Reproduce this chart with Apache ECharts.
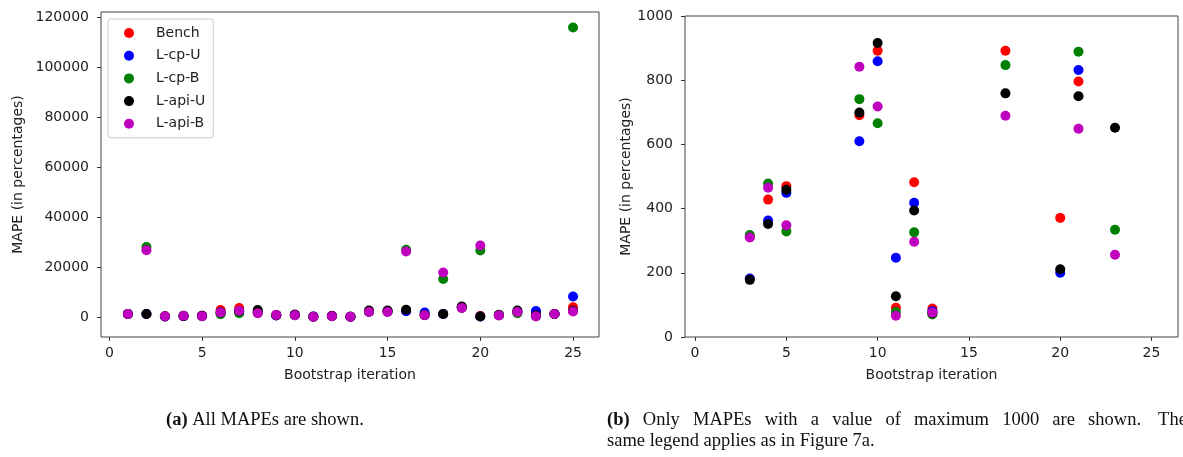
<!DOCTYPE html>
<html>
<head>
<meta charset="utf-8">
<script src="https://cdn.jsdelivr.net/npm/echarts@6/dist/echarts.min.js"></script>
<style>
  html, body { margin: 0; padding: 0; background: #fff; }
  #main { width: 1183px; height: 457px; }
</style>
</head>
<body>
<div id="main"></div>
<script>
var iterations = [1, 2, 3, 4, 5, 6, 7, 8, 9, 10, 11, 12, 13, 14, 15, 16, 17, 18, 19, 20, 21, 22, 23, 24, 25];
var bench  = [1200, 1200, 312, 428, 470, 2800, 3600, 2000, 691, 892, 91, 482, 89, 2200, 2300, 2500, 892, 1200, 4000, 371, 796, 2000, 2000, 1200, 3900];
var lcpU   = [1200, 1200, 182, 363, 449, 1800, 2200, 2000, 610, 859, 247, 418, 80, 2200, 2300, 2300, 1800, 1200, 3900, 200, 832, 2000, 2400, 1200, 8200];
var lcpB   = [1200, 28000, 318, 478, 329, 1100, 1500, 1600, 741, 666, 78, 326, 70, 2000, 2100, 26900, 847, 15200, 3600, 26600, 889, 1500, 334, 1200, 115800];
var lapiU  = [1200, 1200, 178, 352, 459, 1900, 2400, 2800, 699, 916, 127, 394, 75, 2600, 2600, 2900, 759, 1200, 4200, 211, 750, 2600, 652, 1200, 2500];
var lapiB  = [1200, 26700, 310, 465, 348, 1800, 2500, 1500, 842, 718, 66, 297, 76, 2000, 2000, 26200, 689, 17800, 3600, 28600, 649, 2000, 256, 1200, 2200];

var names  = ['Bench', 'L-cp-U', 'L-cp-B', 'L-api-U', 'L-api-B'];
var values = [bench, lcpU, lcpB, lapiU, lapiB];
var colors = ['#ff0000', '#0000ff', '#008000', '#000000', '#bf00bf'];

var xTicks = [0, 5, 10, 15, 20, 25];
var yTicksAll = [0, 20000, 40000, 60000, 80000, 100000, 120000];
var yTicksMax = [0, 200, 400, 600, 800, 1000];
var limit = 1000;

var captionB1 = ['(b)', 'Only', 'MAPEs', 'with', 'a', 'value', 'of', 'maximum', '1000', 'are', 'shown.'];
var captionB2 = 'same legend applies as in Figure 7a.';

var font = 'DejaVu Sans';
var serif = 'Liberation Serif';
var txt = '#222';

function plain(v) { return String(v); }

function xAxisFor(idx, min, max) {
    return {
        type: 'value', gridIndex: idx, min: min, max: max,
        name: 'Bootstrap iteration', nameLocation: 'middle', nameGap: 31,
        nameTextStyle: { fontFamily: font, fontSize: 14, color: txt },
        axisLine: { show: false, onZero: false },
        splitLine: { show: false },
        axisTick: { show: true, length: 4, customValues: xTicks, lineStyle: { color: '#333' } },
        axisLabel: { customValues: xTicks, margin: 9, fontFamily: font, fontSize: 14, color: txt, formatter: plain }
    };
}

function yAxisFor(idx, min, max, ticks, gap) {
    return {
        type: 'value', gridIndex: idx, min: min, max: max,
        name: 'MAPE (in percentages)', nameLocation: 'middle', nameGap: gap,
        nameTextStyle: { fontFamily: font, fontSize: 14, color: txt },
        axisLine: { show: false, onZero: false },
        splitLine: { show: false },
        axisTick: { show: true, length: 4, customValues: ticks, lineStyle: { color: '#333' } },
        axisLabel: { customValues: ticks, margin: 12, fontFamily: font, fontSize: 14, color: txt, formatter: plain }
    };
}

var series = [];
names.forEach(function (n, i) {
    series.push({
        name: n, type: 'scatter', xAxisIndex: 0, yAxisIndex: 0,
        symbolSize: 10, itemStyle: { color: colors[i], opacity: 1 },
        data: iterations.map(function (it, k) { return [it, values[i][k]]; })
    });
});
names.forEach(function (n, i) {
    // right panel: only values up to 1000
    var pts = [];
    iterations.forEach(function (it, k) {
        if (values[i][k] <= limit) pts.push([it, values[i][k]]);
    });
    series.push({
        name: n, type: 'scatter', xAxisIndex: 1, yAxisIndex: 1,
        symbolSize: 10, itemStyle: { color: colors[i], opacity: 1 },
        data: pts
    });
});

// justified first caption line of (b)
var ctx = document.createElement('canvas').getContext('2d');
var capSize = 18.5;
var widths = captionB1.map(function (w, i) {
    ctx.font = (i === 0 ? 'bold ' : '') + capSize + 'px "' + serif + '"';
    return ctx.measureText(w).width;
});
var lineStart = 607, lineEnd = 1141;
var gap = (lineEnd - lineStart - widths.reduce(function (a, b) { return a + b; }, 0)) / (captionB1.length - 1);
var graphics = [];
var cx = lineStart;
captionB1.forEach(function (w, i) {
    graphics.push({
        type: 'text', left: cx, top: 411,
        style: { text: w, fontFamily: serif, fontSize: capSize, fontWeight: i === 0 ? 'bold' : 'normal', fill: '#111' }
    });
    cx += widths[i] + gap;
});
graphics.push({
    type: 'text', left: lineEnd + gap * 1.3, top: 411,
    style: { text: 'The', fontFamily: serif, fontSize: capSize, fill: '#111' }
});
graphics.push({
    type: 'text', left: 607, top: 432,
    style: { text: captionB2, fontFamily: serif, fontSize: capSize, fill: '#111' }
});
graphics.push({
    type: 'text', left: 166, top: 411,
    style: {
        text: '{b|(a)} All MAPEs are shown.',
        fontFamily: serif, fontSize: capSize, fill: '#111',
        rich: { b: { fontFamily: serif, fontSize: capSize, fontWeight: 'bold', fill: '#111' } }
    }
});

var myChart = echarts.init(document.getElementById('main'), null, { renderer: 'canvas' });

var option = {
    animation: false,
    backgroundColor: '#fff',
    grid: [
        { left: 101, top: 12, width: 498, height: 325, show: true, borderColor: '#444', borderWidth: 1 },
        { left: 685, top: 16, width: 493, height: 321, show: true, borderColor: '#444', borderWidth: 1 }
    ],
    legend: {
        data: names, orient: 'vertical', left: 108, top: 19,
        padding: [7, 8, 7, 16], itemGap: 8.7, itemWidth: 32, itemHeight: 10,
        icon: 'circle', borderColor: '#ccc', borderWidth: 1, borderRadius: 3,
        backgroundColor: '#fff',
        textStyle: { fontFamily: font, fontSize: 14, color: txt, lineHeight: 14, padding: [0, 0, 0, 6] },
        selectedMode: false
    },
    xAxis: [xAxisFor(0, -0.45, 26.4), xAxisFor(1, -0.55, 26.45)],
    yAxis: [yAxisFor(0, -8000, 122000, yTicksAll, 76), yAxisFor(1, 0, 1000, yTicksMax, 43)],
    graphic: graphics,
    series: series
};
myChart.setOption(option);
</script>
</body>
</html>
